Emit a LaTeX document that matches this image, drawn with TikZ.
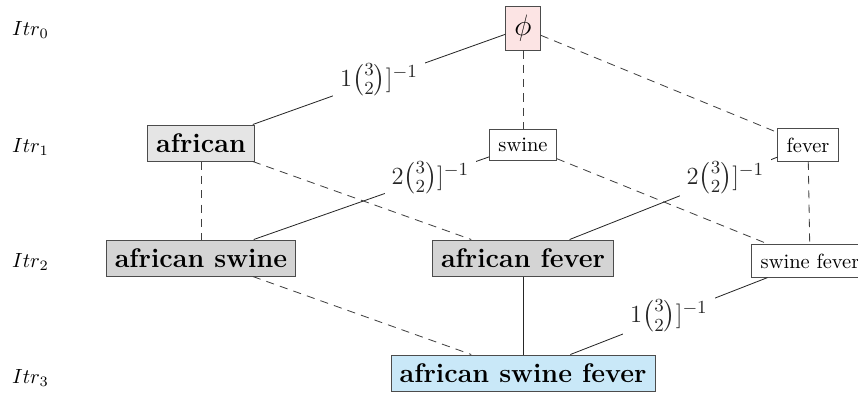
\documentclass[tikz,border=0pt]{standalone}
\usepackage{amsmath}
\usepackage{amssymb}
\usepackage{tikz}
\usepackage{color}
\definecolor{rootpink}{HTML}{FCE4E4}
\definecolor{fullblue}{HTML}{C9E8F8}

\begin{document}
\begin{tikzpicture}[x=0.4878pt,y=-0.4878pt,
  term/.style={rectangle,draw=black!70,inner sep=4.3pt,minimum height=14.6pt},
  bigterm/.style={term,font=\fontsize{13.1}{15}\selectfont\bfseries,inner sep=4.2pt,minimum height=17.6pt},
  itr/.style={anchor=west},
  prune/.style={dash pattern=on 4pt off 3pt,black!75},
  keep/.style={black!85},
  cost/.style={fill=white,font=\fontsize{12.8}{15}\selectfont}]
  \useasboundingbox (0,0) rectangle (858,392);
  \node [itr] (i0) at (5,30) {$Itr_0$};
  \node [itr] (i1) at (5,147) {$Itr_1$};
  \node [itr] (i2) at (5,262) {$Itr_2$};
  \node [itr] (i3) at (5,378) {$Itr_3$};

  \node [term,fill=rootpink,font=\Large] (z) at (523,28) {$\phi$};
  \node [bigterm,fill=black!10] (a) at (201,143) {african};
  \node [term,fill=white] (s) at (523,145) {swine};
  \node [term,fill=white] (f) at (808,145) {fever};
  \node [bigterm,fill=black!17] (as) at (201,258) {african swine};
  \node [bigterm,fill=black!17] (af) at (523,258) {african fever};
  \node [term,fill=white] (sf) at (810,261) {swine fever};
  \node [bigterm,fill=fullblue] (asf) at (523,373) {african swine fever};

  \draw [keep] (z) -- node [cost] {$1\binom{3}{2}]^{-1}$} (a);
  \draw [prune] (z) -- (s);
  \draw [prune] (z) -- (f);
  \draw [prune] (a) -- (as);
  \draw [prune] (a) -- (af);
  \draw [keep] (as) -- node [cost,pos=0.75] {$2\binom{3}{2}]^{-1}$} (s);
  \draw [prune] (s) -- (sf);
  \draw [keep] (af) -- node [cost,pos=0.75] {$2\binom{3}{2}]^{-1}$} (f);
  \draw [prune] (f) -- (sf);
  \draw [prune] (as) -- (asf);
  \draw [keep] (af) -- (asf);
  \draw [keep] (asf) -- node [cost] {$1\binom{3}{2}]^{-1}$} (sf);
\end{tikzpicture}
\end{document}
